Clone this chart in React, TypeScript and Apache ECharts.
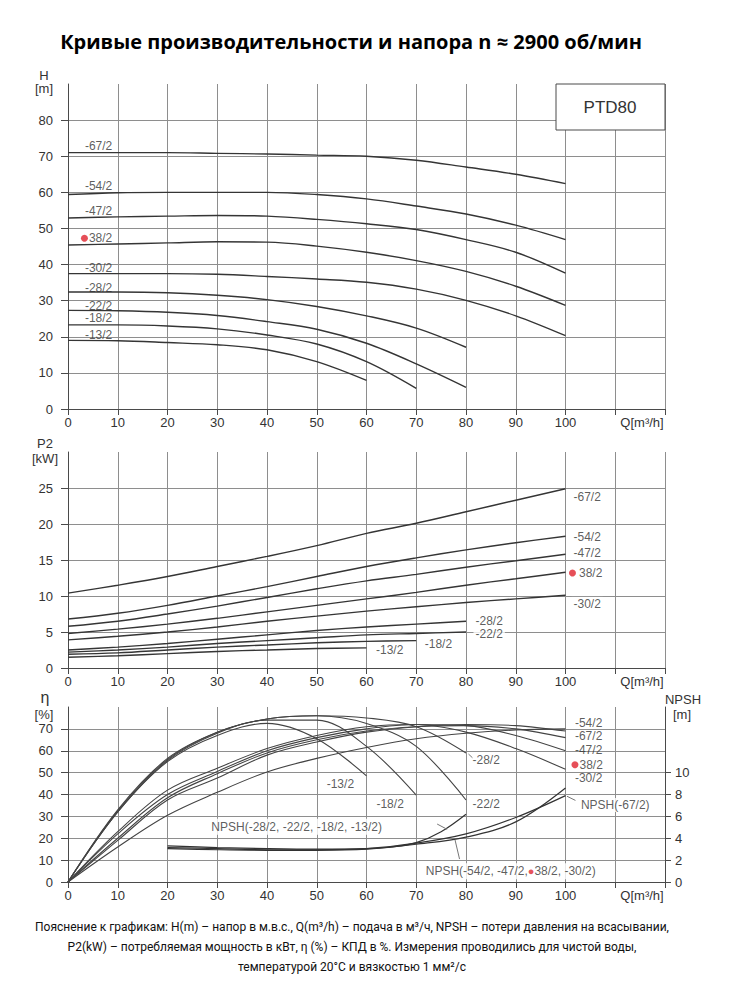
import React, { useEffect, useRef } from 'react';
import * as echarts from 'echarts';

const FONT = "'Liberation Sans', Arial, sans-serif";
const RED = '#e0232e';
const CURVE = '#353535';

// Flow steps Q [m3/h]
const flowQ = [0, 10, 20, 30, 40, 50, 60, 70, 80, 90, 100];
const pumpNames = ['-67/2', '-54/2', '-47/2', '38/2', '-30/2', '-28/2', '-22/2', '-18/2', '-13/2'];

// Head H [m]
const head67 = [71, 71, 71, 70.8, 70.6, 70.3, 70, 68.9, 67, 65, 62.4];
const head54 = [59.4, 59.9, 60, 60, 60, 59.4, 58.2, 56.2, 54, 50.9, 46.9];
const head47 = [52.9, 53.2, 53.4, 53.6, 53.4, 52.5, 51.3, 49.7, 46.9, 43.4, 37.6];
const head38 = [45.4, 45.7, 46, 46.3, 46.2, 45.1, 43.4, 41.1, 38.1, 34, 28.7];
const head30 = [37.5, 37.5, 37.5, 37.3, 36.7, 36, 35.1, 33.2, 30.1, 25.8, 20.3];
const head28 = [32.4, 32.4, 32.2, 31.5, 30.3, 28.4, 25.8, 22.4, 17.1];
const head22 = [27.3, 27.2, 26.8, 25.9, 24.2, 22.1, 18.2, 12.5, 6];
const head18 = [23.3, 23.3, 23, 22.2, 20.5, 18, 13.1, 5.7];
const head13 = [19, 18.9, 18.4, 17.8, 16.4, 13.1, 7.9];

// Power P2 [kW]
const power67 = [10.4, 11.5, 12.7, 14.1, 15.5, 17, 18.7, 20.1, 21.7, 23.3, 24.9];
const power54 = [6.8, 7.6, 8.7, 10, 11.3, 12.7, 14.1, 15.3, 16.4, 17.4, 18.3];
const power47 = [5.8, 6.5, 7.5, 8.6, 9.8, 11, 12.1, 13, 14, 14.9, 15.8];
const power38 = [4.8, 5.4, 6.1, 6.9, 7.8, 8.7, 9.6, 10.5, 11.5, 12.4, 13.3];
const power30 = [3.9, 4.4, 5, 5.7, 6.5, 7.2, 7.9, 8.5, 9.1, 9.6, 10.1];
const power28 = [2.5, 2.9, 3.4, 4, 4.6, 5.2, 5.7, 6.1, 6.5];
const power22 = [2.2, 2.5, 2.9, 3.4, 3.8, 4.2, 4.6, 4.8, 5];
const power18 = [1.9, 2.1, 2.5, 2.9, 3.2, 3.5, 3.7, 3.8];
const power13 = [1.5, 1.7, 2, 2.3, 2.5, 2.7, 2.8];

// Efficiency eta [%]
const eff67 = [0, 19, 37.5, 47.5, 58, 64, 68.5, 71, 72, 71.5, 69];
const eff54 = [0, 16, 30.5, 41, 50.3, 56.5, 61.5, 65.5, 68, 69.5, 70];
const eff47 = [0, 20, 38.5, 49.5, 59, 65, 69, 71, 71.5, 70, 66];
const eff38 = [0, 22, 40, 50.5, 60, 66, 70, 72, 71.5, 67, 60];
const eff30 = [0, 23, 42, 52, 61, 67, 71, 72, 68.5, 61, 51.5];
const eff28 = [0, 33, 56.5, 68.5, 74.5, 76, 75, 71, 59];
const eff22 = [0, 32.5, 56, 68.5, 74.5, 76, 72.5, 62, 37.5];
const eff18 = [0, 32, 55.5, 68, 74, 74, 62, 39.7];
const eff13 = [0, 32, 55, 67, 72.5, 65.5, 48.5];

// NPSH [m]
const npshSmallQ = [20, 30, 40, 50, 60, 65, 70, 75, 80];
const npshSmall = [3.3, 3.15, 3.05, 3.0, 3.05, 3.2, 3.6, 4.6, 6.2];
const npshBigQ = [20, 30, 40, 50, 60, 70, 80, 90, 100];
const npshBig = [3.05, 2.95, 2.9, 2.9, 3.0, 3.45, 4.1, 5.5, 8.6];
const npsh67 = [3.15, 3.05, 2.95, 2.95, 3.05, 3.55, 4.4, 5.9, 7.9];

// Axis ticks
const headTicks = [0, 10, 20, 30, 40, 50, 60, 70, 80];
const powerTicks = [0, 5, 10, 15, 20, 25];
const effTicks = [0, 10, 20, 30, 40, 50, 60, 70];
const npshTicks = [0, 2, 4, 6, 8, 10];

// Annotation anchors (axis units)
const headLabelPos = [[3.4, 72.8], [3.4, 61.8], [3.4, 54.8], [3.3, 47.3], [3.4, 39.1], [3.4, 33.4], [3.4, 28.6], [3.4, 25.1], [3.4, 20.5]];
const powerLabelPos = [[101.2, 23.8], [101.2, 18.2], [101.2, 16.0], [101.4, 13.2], [101.2, 8.9], [81.5, 6.5], [81.5, 4.7], [71.3, 3.3], [61.5, 2.55]];
const effLabelPos = [[101.9, 66.6], [101.9, 72.8], [101.9, 60.2], [101.9, 53.6], [101.9, 47.5], [81.3, 55.6], [81.3, 35.7], [62, 35.7], [52, 44.7]];

const pairs = (xs: number[], ys: number[]) => ys.map((y, i) => [xs[i], y]);

const headSets = [head67, head54, head47, head38, head30, head28, head22, head18, head13];
const powerSets = [power67, power54, power47, power38, power30, power28, power22, power18, power13];
const effSets = [eff67, eff54, eff47, eff38, eff30, eff28, eff22, eff18, eff13];

function buildOption() {
  const gridLine = { color: '#8e8e8e', width: 1 };
  const axisLineStyle = { color: '#4a4a4a', width: 1 };
  const labelText = { color: '#333', fontSize: 13, fontFamily: FONT };

  const xAxis = (gridIndex: number) => ({
    type: 'value', gridIndex, min: 0, max: 120, interval: 10,
    axisLine: { show: true, lineStyle: axisLineStyle },
    axisTick: { show: true, length: 6, lineStyle: axisLineStyle },
    axisLabel: {
      ...labelText, margin: 7,
      formatter: (v: number) => (v === 110 ? '' : v === 120 ? '{q|Q[m³/h]}' : String(v)),
      rich: { q: { ...labelText, padding: [0, 46, 0, 0] } },
    },
    splitLine: { show: true, lineStyle: gridLine },
  });
  const yAxis = (gridIndex: number, max: number, interval: number, ticks: number[]) => ({
    type: 'value', gridIndex, min: 0, max, interval,
    axisLine: { show: true, lineStyle: axisLineStyle },
    axisTick: { show: true, length: 7, lineStyle: axisLineStyle, customValues: ticks },
    axisLabel: { ...labelText, margin: 15, customValues: ticks, formatter: (v: number) => (v === max ? '' : String(v)) },
    splitLine: { show: true, lineStyle: gridLine },
  });

  const curve = (name: string, xi: number, yi: number, data: number[][], width = 1.3, color = CURVE) => ({
    type: 'line', name, xAxisIndex: xi, yAxisIndex: yi, data, smooth: 0.35,
    symbol: 'none', silent: true, lineStyle: { color, width }, z: 3,
  });

  const labelSeries = (xi: number, yi: number, pos: number[][], bg: boolean) => ({
    type: 'scatter', xAxisIndex: xi, yAxisIndex: yi, silent: true, z: 5,
    data: pos.map((p, i) => ({
      name: pumpNames[i],
      value: p,
      symbolSize: pumpNames[i] === '38/2' ? 7 : 0,
      itemStyle: { color: RED },
      label: {
        show: true, position: 'right', distance: pumpNames[i] === '38/2' ? 1 : 0,
        formatter: pumpNames[i],
        color: '#333', fontSize: 12, fontFamily: FONT,
        backgroundColor: bg ? '#fff' : 'transparent', padding: bg ? [1, 2, 1, 2] : 0,
      },
    })),
  });

  const leader = (yi: number, pts: number[][]) => ({
    type: 'line', xAxisIndex: 2, yAxisIndex: yi, data: pts, symbol: 'none', silent: true,
    lineStyle: { color: '#777', width: 1 }, z: 4,
  });

  const series: any[] = [];
  headSets.forEach((d, i) => series.push(curve(pumpNames[i], 0, 0, pairs(flowQ, d), 1.4)));
  series.push(labelSeries(0, 0, headLabelPos, false));
  powerSets.forEach((d, i) => series.push(curve(pumpNames[i], 1, 1, pairs(flowQ, d), 1.4)));
  series.push(labelSeries(1, 1, powerLabelPos, true));
  effSets.forEach((d, i) => series.push(curve(pumpNames[i], 2, 2, pairs(flowQ, d), 1.1, '#444')));
  series.push(curve('NPSH small', 2, 3, pairs(npshSmallQ, npshSmall), 1.2, '#333'));
  series.push(curve('NPSH big', 2, 3, pairs(npshBigQ, npshBig), 1.2, '#333'));
  series.push(curve('NPSH -67/2', 2, 3, pairs(npshBigQ, npsh67), 1.2, '#333'));
  series.push(leader(2, [[100.3, 39.2], [102, 37.3]]));
  series.push(leader(2, [[77.8, 19.2], [78.7, 10.5]]));
  series.push(leader(2, [[74.2, 26.5], [76.2, 24.1]]));
  series.push(leader(2, [[80.5, 58.5], [81.3, 56.8]]));
  series.push(labelSeries(2, 2, effLabelPos, false));
  series.push({
    type: 'scatter', xAxisIndex: 2, yAxisIndex: 2, silent: true, z: 6, symbolSize: 0,
    data: [
      {
        value: [102.7, 35.2],
        label: { show: true, position: 'right', distance: 0, formatter: 'NPSH(-67/2)', color: '#333', fontSize: 12, fontFamily: FONT, backgroundColor: '#fff', padding: [1, 2, 1, 2] },
      },
      {
        value: [28.2, 25.3],
        label: { show: true, position: 'right', distance: 0, formatter: 'NPSH(-28/2, -22/2, -18/2, -13/2)', color: '#333', fontSize: 12, fontFamily: FONT, backgroundColor: '#fff', padding: [2, 3, 2, 3] },
      },
      {
        value: [71.3, 4.9],
        label: {
          show: true, position: 'right', distance: 0, formatter: 'NPSH(-54/2, -47/2,{d|●}38/2, -30/2)',
          color: '#333', fontSize: 12, fontFamily: FONT, backgroundColor: '#fff', padding: [2, 3, 2, 3],
          rich: { d: { color: RED, fontSize: 11, fontFamily: FONT } },
        },
      },
    ],
  });

  const txt = (x: number, y: number, text: string, size = 13, extra: any = {}) => ({
    type: 'text', x, y, silent: true,
    style: { text, fill: '#333', fontSize: size, fontFamily: FONT, align: 'center', verticalAlign: 'middle', textAlign: 'center', textVerticalAlign: 'middle', ...extra },
  });

  const FOOT = "Roboto, 'Open Sans', sans-serif";
  const graphic = [
    txt(351, 41, 'Кривые производительности и напора n ≈ 2900 об/мин', 20, { fontFamily: "'Open Sans', sans-serif", fontWeight: 'bold', fill: '#000' }),
    txt(44, 75, 'H'), txt(44, 88, '[m]'),
    txt(45, 443, 'P2'), txt(45, 458, '[kW]'),
    txt(45, 697, 'η', 16), txt(44, 714, '[%]'),
    txt(683, 699, 'NPSH'), txt(682, 714, '[m]'),
    { type: 'rect', shape: { x: 556, y: 84, width: 109, height: 46 }, style: { fill: '#fff', stroke: '#4a4a4a', lineWidth: 1 }, z: 10 },
    { ...txt(610, 107, 'PTD80', 17), z: 11 },
    txt(352, 927, 'Пояснение к графикам: H(m) – напор в м.в.с., Q(m³/h) – подача в м³/ч, NPSH – потери давления на всасывании,', 12, { fontFamily: FOOT, fill: '#111' }),
    txt(352, 947, 'P2(kW) – потребляемая мощность в кВт, η (%) – КПД в %. Измерения проводились для чистой воды,', 12, { fontFamily: FOOT, fill: '#111' }),
    txt(352, 967, 'температурой 20°C и вязкостью 1 мм²/с', 12, { fontFamily: FOOT, fill: '#111' }),
  ];

  return {
    animation: false,
    backgroundColor: '#fff',
    grid: [
      { left: 68, top: 84, width: 597, height: 325 },
      { left: 68, top: 452, width: 597, height: 216 },
      { left: 68, top: 707, width: 597, height: 175 },
    ],
    xAxis: [xAxis(0), xAxis(1), xAxis(2)],
    yAxis: [
      yAxis(0, 90, 10, headTicks),
      yAxis(1, 30, 5, powerTicks),
      yAxis(2, 80, 10, effTicks),
      {
        type: 'value', gridIndex: 2, position: 'right', min: 0, max: 16, interval: 2,
        axisLine: { show: true, lineStyle: axisLineStyle },
        axisTick: { show: true, length: 6, lineStyle: axisLineStyle, customValues: npshTicks },
        axisLabel: { ...labelText, margin: 10, customValues: npshTicks, formatter: (v: number) => (v > 10 ? '' : String(v)) },
        splitLine: { show: false },
      },
    ],
    series,
    graphic,
  };
}

export default function App() {
  const ref = useRef<HTMLDivElement>(null);
  useEffect(() => {
    if (!ref.current) return;
    const chart = echarts.init(ref.current, undefined, { renderer: 'svg' });
    chart.setOption(buildOption() as any);
    return () => chart.dispose();
  }, []);
  return <div ref={ref} style={{ position: 'absolute', left: 0, top: 0, width: 733, height: 1000, background: '#fff' }} />;
}
